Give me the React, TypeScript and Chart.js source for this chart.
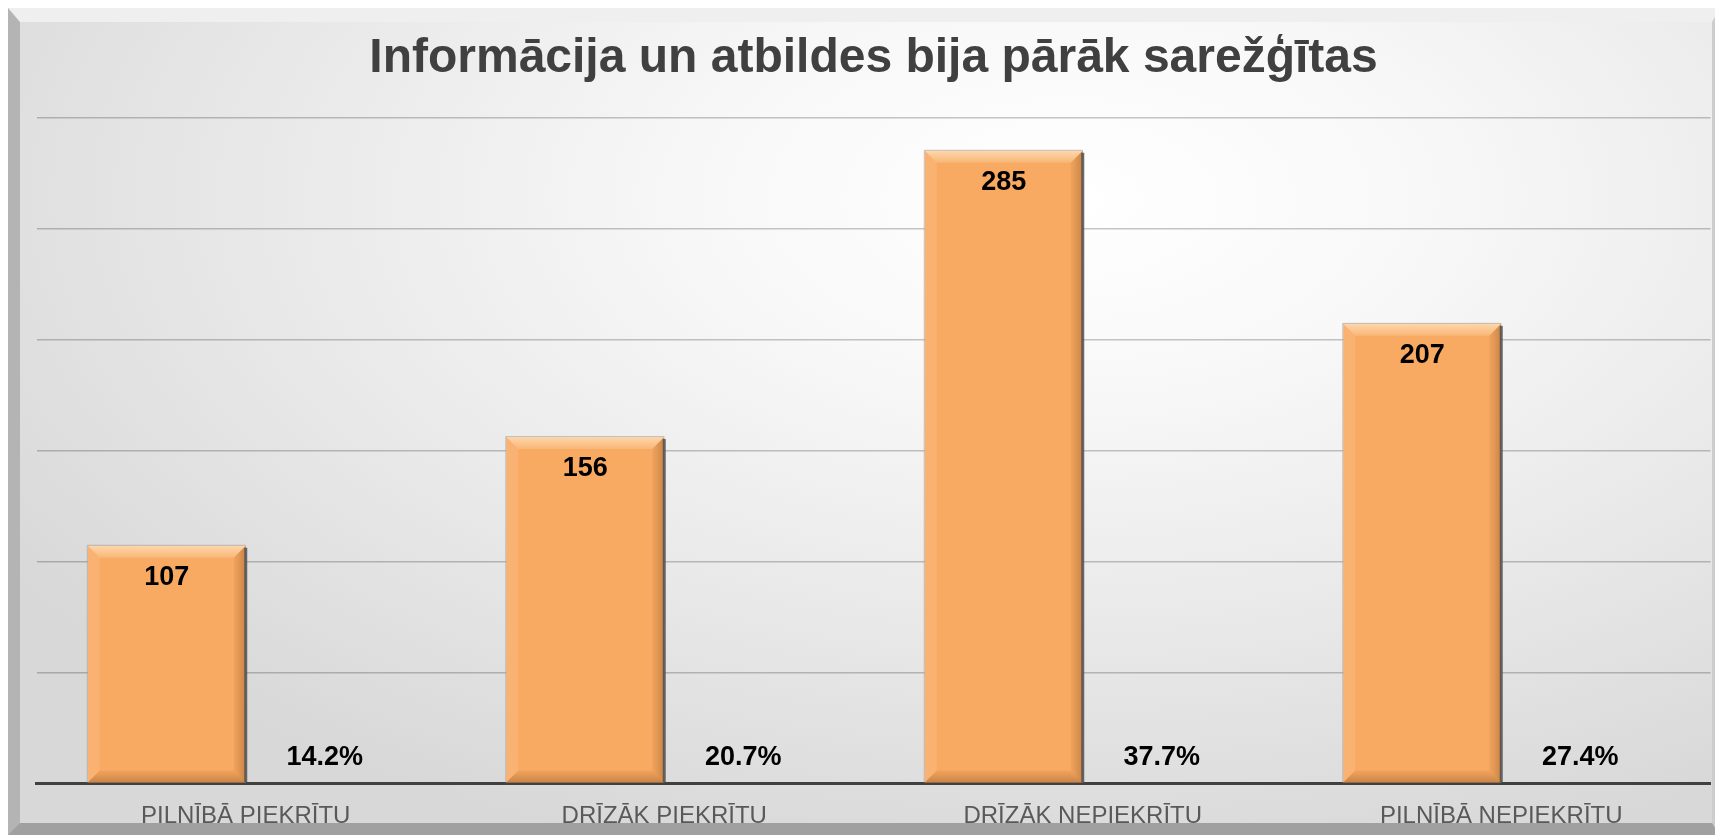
import React, { useEffect, useRef } from 'react';
import { Chart, registerables } from 'chart.js';

Chart.register(...registerables);

const titleText = 'Informācija un atbildes bija pārāk sarežģītas';
const categories = ['PILNĪBĀ PIEKRĪTU', 'DRĪZĀK PIEKRĪTU', 'DRĪZĀK NEPIEKRĪTU', 'PILNĪBĀ NEPIEKRĪTU'];
const counts = [107, 156, 285, 207];
const shares = [0.142, 0.207, 0.377, 0.274];
const yTicks = [0, 50, 100, 150, 200, 250, 300];

const FONT = '"Liberation Sans", Arial, Helvetica, sans-serif';

const bevelPlugin = {
  id: 'bevelBars',
  afterDatasetsDraw(chart: any) {
    const ctx = chart.ctx;
    const meta = chart.getDatasetMeta(0);
    meta.data.forEach((el: any) => {
      const { x, y, width, base } = el.getProps(['x', 'y', 'width', 'base'], true);
      const x0 = x - width / 2;
      const x1 = x + width / 2;
      const y0 = y;
      const y1 = base;
      const b = 12;
      ctx.save();
      // top bevel
      let g = ctx.createLinearGradient(0, y0, 0, y0 + b);
      g.addColorStop(0, '#fdd7ac');
      g.addColorStop(1, '#f9b676');
      ctx.fillStyle = g;
      ctx.beginPath();
      ctx.moveTo(x0, y0);
      ctx.lineTo(x1, y0);
      ctx.lineTo(x1 - b, y0 + b);
      ctx.lineTo(x0 + b, y0 + b);
      ctx.closePath();
      ctx.fill();
      // left bevel
      ctx.fillStyle = 'rgba(255,230,200,0.15)';
      ctx.beginPath();
      ctx.moveTo(x0, y0);
      ctx.lineTo(x0 + b, y0 + b);
      ctx.lineTo(x0 + b, y1 - b);
      ctx.lineTo(x0, y1);
      ctx.closePath();
      ctx.fill();
      // right bevel
      g = ctx.createLinearGradient(x1 - b, 0, x1, 0);
      g.addColorStop(0, 'rgba(150,80,20,0.08)');
      g.addColorStop(1, 'rgba(110,60,20,0.35)');
      ctx.fillStyle = g;
      ctx.beginPath();
      ctx.moveTo(x1, y0);
      ctx.lineTo(x1, y1);
      ctx.lineTo(x1 - b, y1 - b);
      ctx.lineTo(x1 - b, y0 + b);
      ctx.closePath();
      ctx.fill();
      // bottom bevel
      g = ctx.createLinearGradient(0, y1 - b, 0, y1);
      g.addColorStop(0, 'rgba(150,80,20,0.08)');
      g.addColorStop(1, 'rgba(110,60,20,0.35)');
      ctx.fillStyle = g;
      ctx.beginPath();
      ctx.moveTo(x0, y1);
      ctx.lineTo(x1, y1);
      ctx.lineTo(x1 - b, y1 - b);
      ctx.lineTo(x0 + b, y1 - b);
      ctx.closePath();
      ctx.fill();
      // right shadow / edge
      ctx.fillStyle = 'rgba(80,80,80,0.85)';
      ctx.fillRect(x1 - 1.5, y0 + 2, 3, y1 - y0 - 2);
      // thin outline left/top
      ctx.strokeStyle = 'rgba(160,160,160,0.6)';
      ctx.lineWidth = 1;
      ctx.beginPath();
      ctx.moveTo(x0 - 0.5, y1);
      ctx.lineTo(x0 - 0.5, y0 - 0.5);
      ctx.lineTo(x1, y0 - 0.5);
      ctx.stroke();
      ctx.restore();
    });
  },
};

const labelPlugin = {
  id: 'valueLabels',
  afterDraw(chart: any) {
    const ctx = chart.ctx;
    ctx.save();
    ctx.fillStyle = '#000000';
    ctx.font = `bold 27px ${FONT}`;
    ctx.textAlign = 'center';
    ctx.textBaseline = 'middle';
    chart.getDatasetMeta(0).data.forEach((el: any, i: number) => {
      const { x, y } = el.getProps(['x', 'y'], true);
      ctx.fillText(String(counts[i]), x, y + 32);
    });
    chart.getDatasetMeta(1).data.forEach((el: any, i: number) => {
      const { x, base } = el.getProps(['x', 'base'], true);
      ctx.fillText((shares[i] * 100).toFixed(1) + '%', x, base - 25);
    });
    ctx.restore();
  },
};

export default function App() {
  const ref = useRef<HTMLCanvasElement | null>(null);

  useEffect(() => {
    document.documentElement.style.overflow = 'hidden';
    document.body.style.overflow = 'hidden';
    const canvas = ref.current;
    if (!canvas) return;
    const chart = new Chart(canvas, {
      type: 'bar',
      data: {
        labels: categories,
        datasets: [
          {
            label: 'Skaits',
            data: counts,
            backgroundColor: '#f8aa63',
            borderWidth: 0,
            barPercentage: 1,
            categoryPercentage: 0.755,
          },
          {
            label: 'Procenti',
            data: shares,
            backgroundColor: 'rgba(0,0,0,0)',
            borderWidth: 0,
            barPercentage: 1,
            categoryPercentage: 0.755,
          },
        ],
      },
      options: {
        responsive: false,
        animation: false,
        layout: { padding: { left: 28.5, right: 9.5, top: 0, bottom: 0 } },
        plugins: {
          legend: { display: false },
          tooltip: { enabled: false },
          title: {
            display: true,
            text: titleText,
            color: '#404040',
            font: { family: FONT, size: 48, weight: 'bold', lineHeight: 1.2 },
            padding: { top: 22.4, bottom: 29.5 },
          },
        },
        scales: {
          x: {
            z: 1,
            grid: { display: false, drawTicks: false },
            border: { display: true, color: '#404040', width: 3 },
            ticks: {
              color: '#595959',
              font: { family: FONT, size: 24, lineHeight: 1.2 },
              padding: 18.5,
              maxRotation: 0,
              autoSkip: false,
            },
          },
          y: {
            z: 1,
            min: yTicks[0],
            max: yTicks[yTicks.length - 1],
            ticks: { display: false, stepSize: yTicks[1] - yTicks[0] },
            border: { display: false },
            grid: {
              drawTicks: false,
              lineWidth: 1.5,
              color: (c: any) => (c.tick && c.tick.value === 0 ? 'rgba(0,0,0,0)' : 'rgba(0,0,0,0.22)'),
            },
          },
        },
      },
      plugins: [bevelPlugin, labelPlugin],
    });
    return () => chart.destroy();
  }, []);

  return (
    <div style={{ position: 'relative', width: 1712, height: 827 }}>
      <div
        style={{
          position: 'absolute',
          inset: 0,
          boxSizing: 'border-box',
          borderStyle: 'solid',
          borderWidth: '14px 8px 12px 12px',
          borderColor: '#efefef #cdcdcd #a0a0a0 #b4b4b4',
          boxShadow: '0 0 0 1px #9a9a9a',
          background:
            'radial-gradient(ellipse 75% 85% at 62% 22%, #ffffff 0%, #f8f8f8 28%, #e8e8e8 65%, #d8d8d8 100%)',
        }}
      />
      <canvas
        ref={ref}
        width={1712}
        height={841}
        style={{ position: 'absolute', left: 0, top: 0, display: 'block' }}
      />
    </div>
  );
}
